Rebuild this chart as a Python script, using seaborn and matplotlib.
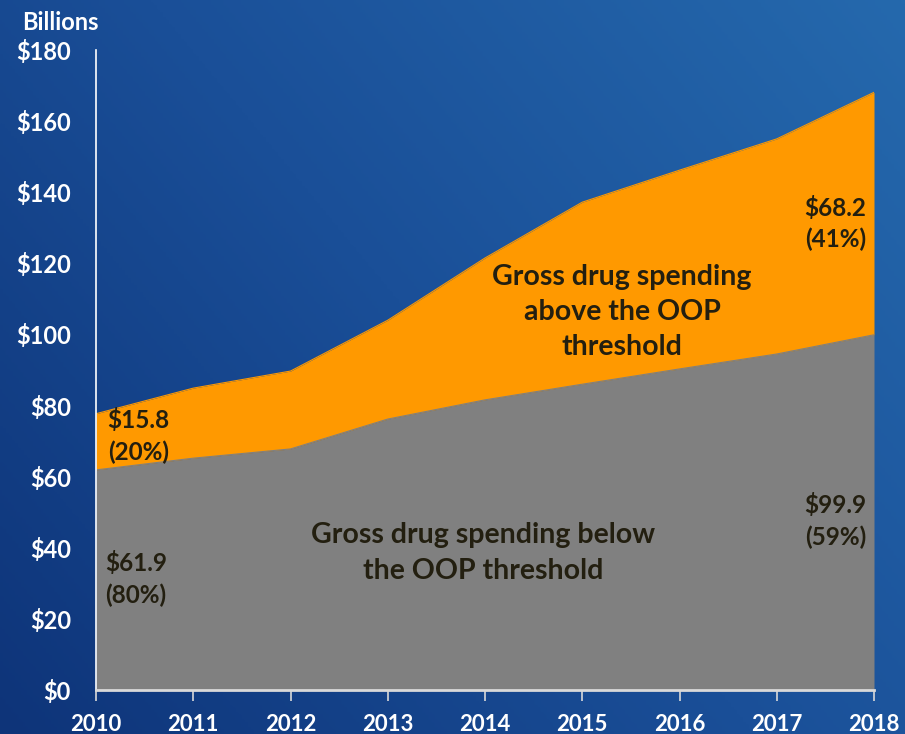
import numpy as np
import pandas as pd
import matplotlib
matplotlib.use("Agg")
import matplotlib.pyplot as plt
import seaborn as sns
from matplotlib.colors import LinearSegmentedColormap

years = [2010, 2011, 2012, 2013, 2014, 2015, 2016, 2017, 2018]
below_oop = [61.9, 65.2, 67.8, 76.2, 81.6, 86.0, 90.3, 94.5, 99.9]
above_oop = [15.8, 19.7, 21.9, 27.8, 39.9, 51.2, 55.9, 60.5, 68.2]
y_ticks = [0, 20, 40, 60, 80, 100, 120, 140, 160, 180]
y_tick_labels = ["$0", "$20", "$40", "$60", "$80", "$100", "$120", "$140", "$160", "$180"]

df = pd.DataFrame({"year": years, "below": below_oop, "above": above_oop})
df["total"] = df["below"] + df["above"]

sns.set_theme(style="white")
plt.rcParams["font.family"] = ["Lato", "DejaVu Sans"]

fig = plt.figure(figsize=(9.05, 7.34), dpi=100)

# gradient background
bg = fig.add_axes([0, 0, 1, 1], zorder=0)
xx, yy = np.meshgrid(np.linspace(0, 1, 300), np.linspace(0, 1, 300))
grad = 0.6 * xx + 0.4 * yy
cmap = LinearSegmentedColormap.from_list("bg", ["#0e3479", "#1a4f98", "#2569ad"])
bg.imshow(grad, cmap=cmap, origin="lower", extent=[0, 1, 0, 1], aspect="auto")
bg.axis("off")

ax = fig.add_axes([96 / 905, 1 - 690 / 734, (874 - 96) / 905, (690 - 50) / 734], zorder=1)
ax.set_facecolor("none")

gray = "#808080"
orange = "#ff9900"
ax.fill_between(df["year"], 0, df["below"], color=gray, lw=0)
ax.fill_between(df["year"], df["below"], df["total"], color=orange, lw=0)
sns.lineplot(data=df, x="year", y="total", ax=ax, color=orange, lw=0.8)
sns.lineplot(data=df, x="year", y="below", ax=ax, color=gray, lw=0.8)

ax.set_xlim(2010, 2018)
ax.set_ylim(0, 180)
ax.set_xticks(years)
ax.set_xticklabels([str(y) for y in years], fontsize=16, fontweight="bold", color="white",
                   family=["Liberation Sans Narrow", "Lato", "DejaVu Sans"])
ax.set_yticks(y_ticks)
ax.set_yticklabels(y_tick_labels, fontsize=17, fontweight="bold", color="white")
ax.tick_params(axis="x", direction="out", length=8, width=1.2, color="#d9d9d9", pad=9, bottom=True)
ax.tick_params(axis="y", length=0, pad=18)
ax.set_xlabel("")
ax.set_ylabel("")
for s in ["top", "right"]:
    ax.spines[s].set_visible(False)
ax.spines["left"].set_color("white")
ax.spines["left"].set_linewidth(1.2)
ax.spines["bottom"].set_color("#d9d9d9")
ax.spines["bottom"].set_linewidth(2)
ax.grid(False)

fig.text(22 / 905, 1 - 22 / 734, "Billions", fontsize=17, fontweight="bold", color="white",
         ha="left", va="center")

tc = "#231f10"
fs_small = 17.5
ax.text(2010.12, 71.4, "$15.8\n(20%)", fontsize=fs_small, fontweight="bold", color=tc,
        ha="left", va="center", linespacing=1.4)
ax.text(2010.09, 31.2, "$61.9\n(80%)", fontsize=fs_small, fontweight="bold", color=tc,
        ha="left", va="center", linespacing=1.4)
ax.text(2017.92, 131.2, "$68.2\n(41%)", fontsize=fs_small, fontweight="bold", color=tc,
        ha="right", va="center", linespacing=1.4)
ax.text(2017.92, 47.5, "$99.9\n(59%)", fontsize=fs_small, fontweight="bold", color=tc,
        ha="right", va="center", linespacing=1.4)
ax.text(2015.41, 106.3, "Gross drug spending\nabove the OOP\nthreshold", fontsize=20.5,
        fontweight="bold", color=tc, ha="center", va="center", linespacing=1.45)
ax.text(2013.98, 38.5, "Gross drug spending below\nthe OOP threshold", fontsize=20.5,
        fontweight="bold", color=tc, ha="center", va="center", linespacing=1.45)

fig.savefig("out.png", dpi=100)
